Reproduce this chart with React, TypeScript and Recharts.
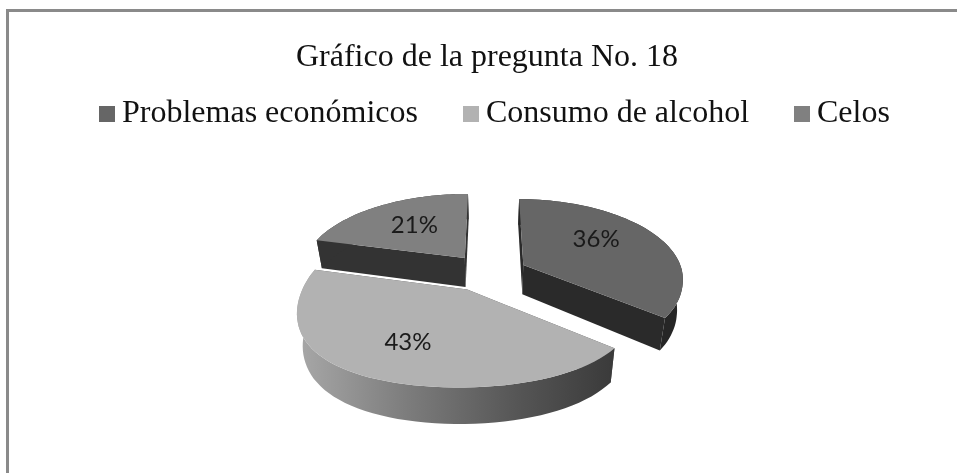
import { PieChart, Pie, Cell, Legend } from "recharts";

const CATEGORIES = ["Problemas económicos", "Consumo de alcohol", "Celos"];
const VALUES = [36, 43, 21];
const COLORS = ["#666666", "#b2b2b2", "#808080"];
const TITLE = "Gráfico de la pregunta No. 18";

const data = CATEGORIES.map((name, i) => ({ name, value: VALUES[i] }));

// fake 3d look: tilt + a bit of perspective
const RADIUS = 160;
const TILT = 0.49;
const PERSPECTIVE = 0.15;
const DEPTH = 30;
const SHRINK = 0.03;

const EXPLODE = [
  { x: 34, y: -21 },
  { x: -22, y: 29 },
  { x: -26, y: -36 },
];
const X_SCALE = [1, 1, 1.03];
const WALL_FILL = ["#262626", "url(#wallGrad)", "#333333"];
const CUT_FILL = ["#2a2a2a", "#555555", "#333333"];
const LABEL_POS = [
  { ratio: 0.5, lift: -12, shift: 5 },
  { ratio: 0.7, lift: -6, shift: 7 },
  { ratio: 0.5, lift: -7, shift: -7 },
];

function project(cx: number, cy: number, wx: number, wy: number, z: number) {
  const s = 1 / (1 - (PERSPECTIVE * wy) / RADIUS);
  const sx = wy > 0 ? Math.pow(s, 1 + (0.7 * wy) / RADIUS) : s;
  const zs = 1 - SHRINK * z;
  return [cx + wx * sx * zs, cy + TILT * wy * s + z * DEPTH * s];
}

function toPath(points: number[][]) {
  return "M" + points.map((p) => p[0].toFixed(1) + "," + p[1].toFixed(1)).join("L") + "Z";
}

function Slice3D(props: any) {
  const { cx, cy, startAngle, endAngle, fill, name } = props;
  const index = CATEGORIES.indexOf(name);
  const off = EXPLODE[index];

  const rim = (z: number) => {
    const pts = [];
    for (let k = 0; k <= 60; k++) {
      const a = ((startAngle + ((endAngle - startAngle) * k) / 60) * Math.PI) / 180;
      pts.push(
        project(cx, cy, off.x + X_SCALE[index] * RADIUS * Math.cos(a), off.y - RADIUS * Math.sin(a), z)
      );
    }
    return pts;
  };

  const top = rim(0);
  const bottom = rim(1);
  const apexTop = project(cx, cy, off.x, off.y, 0);
  const apexBottom = project(cx, cy, off.x, off.y, 1);
  const last = top.length - 1;

  return (
    <g>
      <defs>
        <linearGradient id="wallGrad" x1="0" y1="0" x2="1" y2="0">
          <stop offset="0%" stopColor="#a8a8a8" />
          <stop offset="35%" stopColor="#7c7c7c" />
          <stop offset="70%" stopColor="#555555" />
          <stop offset="100%" stopColor="#3a3a3a" />
        </linearGradient>
      </defs>
      <path d={toPath([apexTop, top[0], bottom[0], apexBottom])} fill={CUT_FILL[index]} />
      <path d={toPath([apexTop, top[last], bottom[last], apexBottom])} fill={CUT_FILL[index]} />
      <path d={toPath([...top, ...bottom.slice().reverse()])} fill={WALL_FILL[index]} />
      <path d={toPath([apexTop, ...top])} fill={fill} />
    </g>
  );
}

function renderLabel(props: any) {
  const { cx, cy, midAngle, percent, name } = props;
  const index = CATEGORIES.indexOf(name);
  const off = EXPLODE[index];
  const pos = LABEL_POS[index];
  const a = (midAngle * Math.PI) / 180;
  const p = project(
    cx,
    cy,
    off.x + RADIUS * pos.ratio * Math.cos(a),
    off.y - RADIUS * pos.ratio * Math.sin(a),
    0
  );
  return (
    <text
      x={p[0] + pos.shift}
      y={p[1] + pos.lift}
      fill="#1a1a1a"
      fontFamily="Lato, 'Open Sans', sans-serif"
      fontSize={24}
      textAnchor="middle"
      dominantBaseline="central"
    >
      {Math.round(percent * 100) + "%"}
    </text>
  );
}

function renderLegend(props: any) {
  return (
    <div style={{ display: "flex", fontFamily: "'Liberation Serif', serif", fontSize: 32, color: "#111" }}>
      {props.payload.map((item: any, i: number) => (
        <div key={item.value} style={{ display: "flex", alignItems: "center", marginLeft: i === 0 ? 0 : 45 }}>
          <span
            style={{
              width: 16,
              height: 16,
              background: item.color,
              marginRight: 7,
              display: "inline-block",
              position: "relative",
              top: 2,
            }}
          />
          <span>{item.value}</span>
        </div>
      ))}
    </div>
  );
}

export default function App() {
  return (
    <div style={{ position: "absolute", left: 0, top: 0, width: 957, height: 473, background: "#fff", overflow: "hidden" }}>
      <div
        style={{
          position: "absolute",
          left: 6,
          top: 9,
          width: 951,
          height: 464,
          boxSizing: "border-box",
          borderTop: "3px solid #8a8a8a",
          borderLeft: "3px solid #8a8a8a",
        }}
      />
      <div style={{ position: "absolute", left: 0, top: 0, filter: "blur(0.5px)" }}>
        <PieChart width={957} height={473} margin={{ top: 0, right: 0, bottom: 0, left: 0 }}>
          <text
            x={487}
            y={55}
            textAnchor="middle"
            dominantBaseline="central"
            fontFamily="'Liberation Serif', serif"
            fontSize={32}
            fill="#111"
          >
            {TITLE}
          </text>
          <Pie
            data={data}
            dataKey="value"
            nameKey="name"
            cx={490}
            cy={275}
            outerRadius={RADIUS}
            startAngle={90}
            endAngle={-270}
            shape={Slice3D}
            label={renderLabel}
            labelLine={false}
            stroke="none"
            isAnimationActive={false}
          >
            {data.map((_, i) => (
              <Cell key={i} fill={COLORS[i]} />
            ))}
          </Pie>
          <Legend
            content={renderLegend}
            itemSorter={null}
            wrapperStyle={{ position: "absolute", left: 99, top: 93, width: "auto" }}
          />
        </PieChart>
      </div>
    </div>
  );
}
